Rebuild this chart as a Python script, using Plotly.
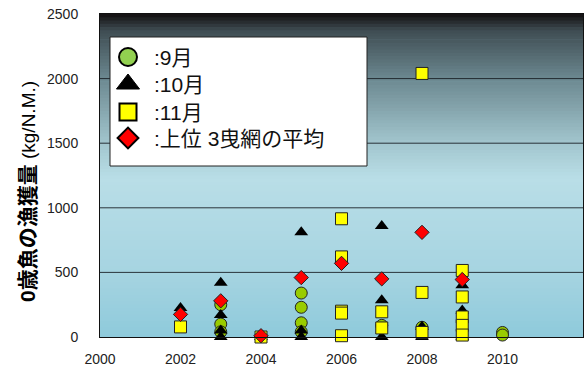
import plotly.graph_objects as go

# ---- data ----
sep_years = [2003, 2003, 2003, 2005, 2005, 2005, 2005, 2007, 2008, 2010, 2010]
sep_vals = [250, 100, 40, 340, 230, 110, 40, 90, 75, 35, 15]

oct_years = [2002, 2003, 2003, 2003, 2003, 2004, 2005, 2005, 2005, 2006,
             2007, 2007, 2007, 2008, 2008, 2009, 2009, 2009]
oct_vals = [225, 420, 170, 50, 0, 0, 810, 50, 0, 0,
            860, 285, 0, 80, 0, 400, 205, 0]

nov_years = [2002, 2004, 2006, 2006, 2006, 2006, 2006, 2007, 2007,
             2008, 2008, 2008, 2009, 2009, 2009, 2009, 2009]
nov_vals = [78, 0, 915, 620, 200, 185, 10, 195, 70,
            2040, 345, 35, 515, 310, 155, 90, 15]

avg_years = [2002, 2003, 2004, 2005, 2006, 2007, 2008, 2009]
avg_vals = [175, 280, 10, 460, 570, 450, 810, 445]

legend_names = [":9月", ":10月", ":11月", ":上位 3曳網の平均"]
x_ticks = [2000, 2002, 2004, 2006, 2008, 2010]
y_ticks = [0, 500, 1000, 1500, 2000, 2500]
y_title_bold = "0歳魚の漁獲量"
y_title_unit = "(kg/N.M.)"

FONT = "Liberation Sans, Arial, Noto Sans CJK JP, sans-serif"

# plot-area size in px (for the overlay used by the legend)
PW, PH = 483, 323

fig = go.Figure()

styles = [
    dict(symbol="circle", color="#99cc00", size=12, lw=1, lc="#222"),
    dict(symbol="triangle-up", color="#000000", size=12, lw=0, lc="#000"),
    dict(symbol="square", color="#ffff00", size=12, lw=1, lc="#222"),
    dict(symbol="diamond", color="#ff0000", size=11, lw=1, lc="#222"),
]
series = [(sep_years, sep_vals), (oct_years, oct_vals), (nov_years, nov_vals), (avg_years, avg_vals)]
legend_colors = ["#92d050", "#000000", "#ffff00", "#ff0000"]
legend_sizes = [18, 20, 17, 16]

for (xs, ys), st, nm in zip(series, styles, legend_names):
    fig.add_trace(go.Scatter(
        x=xs, y=ys, mode="markers", name=nm, showlegend=False, cliponaxis=False,
        marker=dict(symbol=st["symbol"], color=st["color"], size=st["size"],
                    line=dict(width=st["lw"], color=st["lc"])),
    ))

# legend drawn on a pixel overlay (symbols + text annotations)
leg_x_sym = 28
leg_x_txt = 52
leg_rows = [43, 70, 98, 124]
fig.add_trace(go.Scatter(
    x=[leg_x_sym] * 4, y=leg_rows, mode="markers", xaxis="x2", yaxis="y2",
    showlegend=False, hoverinfo="skip", cliponaxis=False,
    marker=dict(symbol=[s["symbol"] for s in styles], color=legend_colors,
                size=legend_sizes, opacity=1,
                line=dict(width=[2, 1, 2, 2], color="#000")),
))

# gradient background of the plot area
stops = [
    (0.00, (0x8e, 0xca, 0xdb)),
    (0.20, (0xa6, 0xd4, 0xe1)),
    (0.49, (0xb9, 0xde, 0xe7)),
    (0.60, (0xa2, 0xc6, 0xce)),
    (0.80, (0x6c, 0x88, 0x90)),
    (0.95, (0x3e, 0x4c, 0x52)),
    (1.00, (0x12, 0x0e, 0x0e)),
]

def col_at(f):
    for (f0, c0), (f1, c1) in zip(stops[:-1], stops[1:]):
        if f0 <= f <= f1:
            t = (f - f0) / (f1 - f0) if f1 > f0 else 0
            return "rgb(%d,%d,%d)" % tuple(round(a + (b - a) * t) for a, b in zip(c0, c1))
    return "rgb(%d,%d,%d)" % stops[-1][1]

N = 100
shapes = []
for i in range(N):
    f0 = i / N
    f1 = (i + 1) / N
    shapes.append(dict(type="rect", xref="x domain", yref="y domain",
                       x0=0, x1=1, y0=f0, y1=f1 + 0.002, layer="below",
                       line=dict(width=0), fillcolor=col_at((f0 + f1) / 2)))

# horizontal gridlines (drawn as shapes so the legend box can cover them)
for v in y_ticks[1:-1]:
    shapes.append(dict(type="line", xref="x domain", yref="y", x0=0, x1=1, y0=v, y1=v,
                       layer="below", line=dict(color="rgba(20,25,30,0.85)", width=1)))

# legend box
shapes.append(dict(type="rect", xref="x domain", yref="y domain",
                   x0=10 / PW, x1=267 / PW, y0=1 - 152 / PH, y1=1 - 23 / PH,
                   layer="below", fillcolor="white", line=dict(color="#222", width=1)))

annotations = [dict(
    text="<span style='font-size:21px'><b>" + y_title_bold + "</b></span> " + y_title_unit,
    xref="paper", yref="paper", x=(28 - 100) / PW, y=(337 - 192) / PH,
    xanchor="center", yanchor="middle", textangle=-90, showarrow=False,
    font=dict(size=19, family=FONT, color="#000"),
)]
for nm, ry in zip(legend_names, leg_rows):
    annotations.append(dict(
        text=nm, xref="x2", yref="y2", x=leg_x_txt, y=ry,
        xanchor="left", yanchor="middle", showarrow=False,
        font=dict(size=21, family=FONT, color="#111"),
    ))

fig.update_layout(
    width=585, height=367,
    margin=dict(l=100, r=2, t=14, b=30),
    paper_bgcolor="white",
    plot_bgcolor="#a6d4e1",
    shapes=shapes,
    font=dict(family=FONT, color="#222", size=14),
    showlegend=False,
    xaxis=dict(range=[2000, 2012], tickvals=x_ticks, showgrid=False, zeroline=False,
               showline=True, linecolor="#111", linewidth=1, mirror=True, automargin=False,
               ticks="", ticklabelstandoff=9, tickfont=dict(size=14)),
    yaxis=dict(range=[0, 2500], tickvals=y_ticks, showgrid=False, zeroline=False,
               showline=True, linecolor="#111", linewidth=1, mirror=True, automargin=False,
               ticks="", ticklabelstandoff=18, tickfont=dict(size=14)),
    xaxis2=dict(range=[0, PW], overlaying="x", visible=False, fixedrange=True),
    yaxis2=dict(range=[PH, 0], overlaying="y", visible=False, fixedrange=True),
    annotations=annotations,
)

fig.write_html("out.html")
